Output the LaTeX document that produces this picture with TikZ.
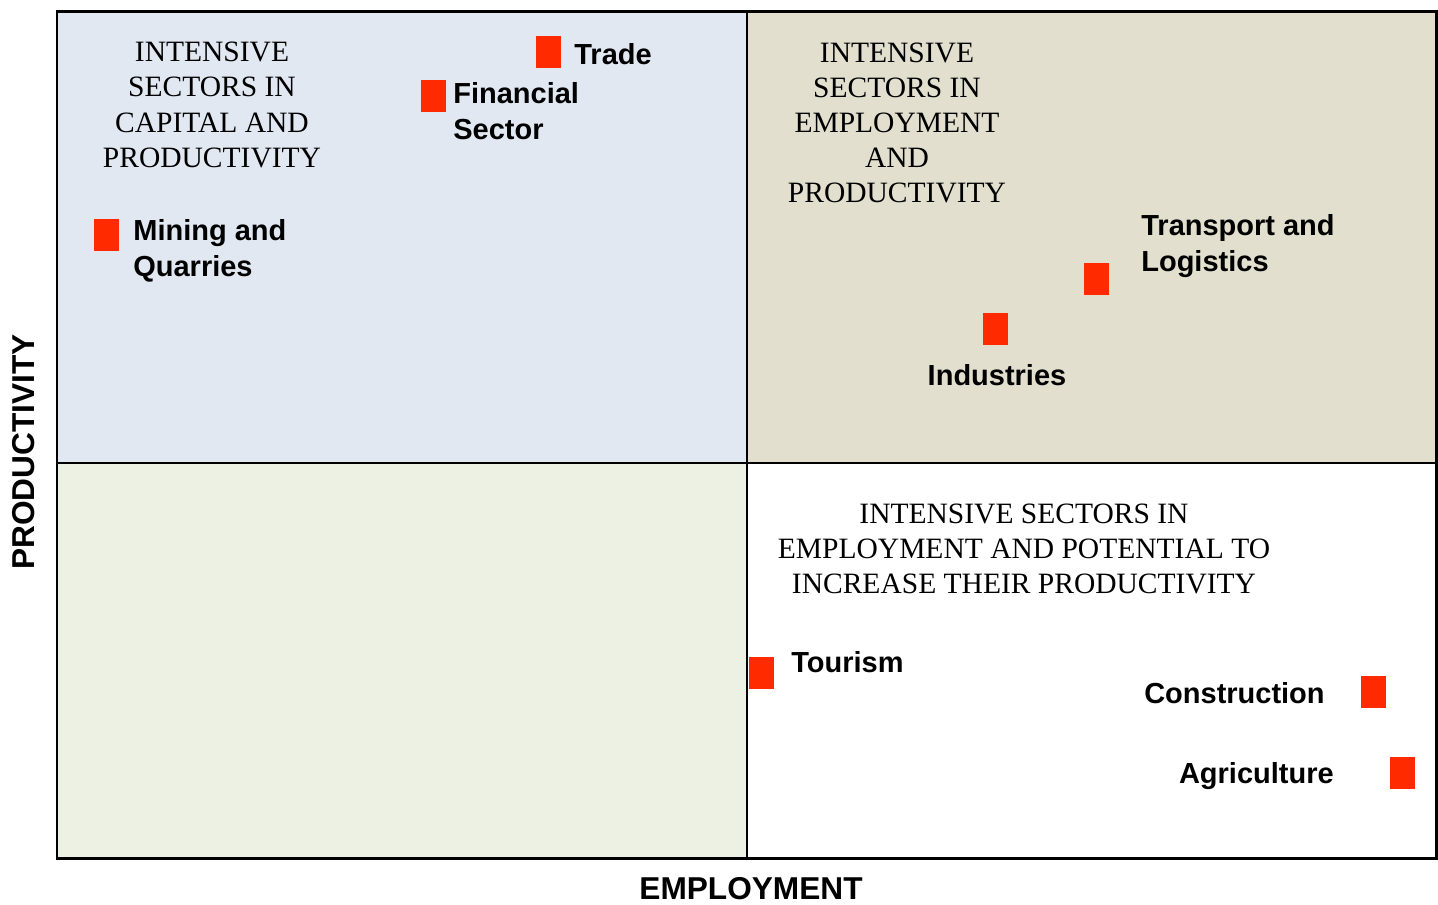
\documentclass[tikz,border=0pt]{standalone}
\usepackage{fontspec}
\setmainfont{Liberation Serif}
\setsansfont{Liberation Sans}
\usepackage{tikz}

\definecolor{capblue}{HTML}{E1E8F2}
\definecolor{emptan}{HTML}{E2DFCF}
\definecolor{lowgreen}{HTML}{ECF1E3}
\definecolor{sectred}{HTML}{FF2A00}

\tikzset{
	quadtitle/.style={font=\fontsize{16.8}{20}\selectfont\rmfamily, align=center, inner sep=0pt},
	sector/.style={font=\fontsize{16.5}{20.5}\selectfont\sffamily\bfseries, align=left, inner sep=0pt},
	sectbox/.style={fill=sectred, minimum width=0.5cm, minimum height=0.64cm, inner sep=0pt},
	axislabel/.style={font=\fontsize{18}{22}\selectfont\sffamily\bfseries, inner sep=0pt}
}

\begin{document}
\begin{tikzpicture}[x=0.02cm,y=-0.02cm]
		\useasboundingbox (0,0) rectangle (1438,904);
		% quadrants
		\fill[capblue] (57,11) rectangle (747,463);
		\fill[emptan] (747,11) rectangle (1437,463);
		\fill[lowgreen] (57,463) rectangle (747,858);
		\fill[white] (747,463) rectangle (1437,858);
		\draw[line width=1.7pt] (57,11) rectangle (1436,858);
		\draw[line width=1.5pt] (747,11) -- (747,858);
		\draw[line width=1.5pt] (57,463) -- (1436,463);

		% axes
		\node[axislabel] (emp) at (751,889) {EMPLOYMENT};
		\node[axislabel,rotate=90] (prod) at (24,452) {PRODUCTIVITY};

		% quadrant titles
		\node[quadtitle] (capital) at (212,105) {INTENSIVE\\SECTORS IN\\CAPITAL AND\\PRODUCTIVITY};
		\node[quadtitle] (employ) at (897,123) {INTENSIVE\\SECTORS IN\\EMPLOYMENT\\AND\\PRODUCTIVITY};
		\node[quadtitle] (potential) at (1024,549) {INTENSIVE SECTORS IN\\EMPLOYMENT AND POTENTIAL TO\\INCREASE THEIR PRODUCTIVITY};

		% sectors
		\node[sectbox] (trade) at (548.5,52) {};
		\node[sector,anchor=west] (tradetxt) at (574,54) {Trade};
		\node[sectbox] (fin) at (433.5,96) {};
		\node[sector,anchor=west] (fintxt) at (453,111.5) {Financial\\Sector};
		\node[sectbox] (mining) at (106.5,235) {};
		\node[sector,anchor=west] (miningtxt) at (133,251) {Mining and\\Quarries};
		\node[sectbox] (transp) at (1096.5,279) {};
		\node[sector,anchor=west] (transptxt) at (1141,246) {Transport and\\Logistics};
		\node[sectbox] (ind) at (995.5,329) {};
		\node[sector] (indtxt) at (997,375) {Industries};
		\node[sectbox] (tour) at (761.5,673) {};
		\node[sector,anchor=west] (tourtxt) at (791,662) {Tourism};
		\node[sectbox] (constr) at (1373.5,692) {};
		\node[sector,anchor=east] (constrtxt) at (1325,693) {Construction};
		\node[sectbox] (agri) at (1402.5,773) {};
		\node[sector,anchor=east] (agritxt) at (1334,776) {Agriculture};
	\end{tikzpicture}
\end{document}
